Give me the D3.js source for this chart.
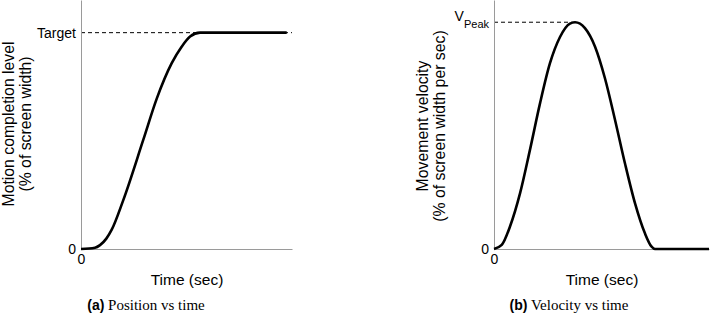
<!DOCTYPE html>
<html>
<head>
<meta charset="utf-8">
<script src="https://cdn.jsdelivr.net/npm/d3@7"></script>
<style>
  body { margin: 0; background: #fff; }
  svg { display: block; }
  .axis text { font-family: "Liberation Sans", Arial, sans-serif; font-size: 14px; fill: #000; }
  .axis path { stroke: #9a9a9a; stroke-width: 1; }
  .lbl { font-family: "Liberation Sans", Arial, sans-serif; fill: #000; }
  .cap { font-family: "Liberation Serif", "Times New Roman", serif; font-size: 15px; fill: #000; }
</style>
</head>
<body>
<div id="chart"></div>
<script>
// Panel (a): position vs time (time in % of plotted span, level in % of target)
const posTime  = [0, 6.6, 9.0, 12.0, 14.5, 20.0, 29.5, 35.9, 43.0, 47.7, 51.7, 56.4, 97.5];
const posLevel = [0, 0.6, 1.8, 4.8, 8.8, 22.5, 50.4, 69.5, 85.9, 93.5, 98.2, 100, 100];

// Panel (b): velocity vs time (velocity in % of peak)
const velTime  = [0, 3.6, 7.4, 12.1, 16.7, 21.4, 26.0, 30.7, 35.3, 37.7, 42.3, 47.0, 51.6, 56.3, 60.9, 65.6, 70.2, 73.3, 74.9, 100];
const velValue = [0, 1.8, 9.8, 24.5, 43.6, 64.2, 81.8, 93.5, 99.4, 100, 97.4, 89.2, 75.3, 56.9, 37.8, 20.1, 6.9, 1.0, 0, 0];

const xTickLabels = ["0"];
const yTickLabels = { a: ["0", "Target"], b: ["0", "V|Peak"] };

const width = 711, height = 316;

const svg = d3.select("#chart").append("svg")
  .attr("width", width)
  .attr("height", height);

function drawPanel(opts) {
  const x = d3.scaleLinear().domain([0, 100]).range([opts.left, opts.right]);
  const y = d3.scaleLinear().domain([0, opts.yTop]).range([249, 0]);

  const g = svg.append("g");

  // dashed reference line at 100%
  g.append("line")
    .attr("x1", x(0)).attr("x2", x(opts.refX))
    .attr("y1", y(100)).attr("y2", y(100))
    .attr("stroke", "#000")
    .attr("stroke-width", 1)
    .attr("stroke-dasharray", "4,3");

  // y axis
  const yAxis = g.append("g")
    .attr("class", "axis")
    .attr("transform", `translate(${x(0)},0)`)
    .call(d3.axisLeft(y).tickValues([0, 100]).tickSize(0).tickPadding(5)
      .tickFormat((d, i) => opts.yLabels[i]));
  // "V|Peak" -> V with subscript
  yAxis.selectAll(".tick text").each(function() {
    const t = d3.select(this);
    const parts = t.text().split("|");
    if (parts.length > 1) {
      t.text(null);
      t.append("tspan").text(parts[0]).attr("dy", "-0.15em");
      t.append("tspan").text(parts[1]).attr("font-size", "11px").attr("dy", "0.65em");
    }
  });

  // x axis
  g.append("g")
    .attr("class", "axis")
    .attr("transform", `translate(0,${y(0)})`)
    .call(d3.axisBottom(x).tickValues([0]).tickSize(0).tickPadding(5)
      .tickFormat((d, i) => xTickLabels[i]));

  // curve
  const line = d3.line()
    .x(d => x(d[0]))
    .y(d => y(d[1]))
    .curve(d3.curveMonotoneX);

  g.append("path")
    .datum(d3.zip(opts.xs, opts.ys))
    .attr("fill", "none")
    .attr("stroke", "#000")
    .attr("stroke-width", 2.6)
    .attr("stroke-linejoin", "round")
    .attr("d", line);

  // axis titles
  g.append("text")
    .attr("class", "lbl")
    .attr("x", opts.timeX)
    .attr("y", 285)
    .attr("text-anchor", "middle")
    .style("font-size", "15.5px")
    .text("Time (sec)");

  const yl = g.append("text")
    .attr("class", "lbl")
    .attr("transform", `translate(${opts.yLabelX},${opts.yLabelY}) rotate(-90)`)
    .attr("text-anchor", "middle")
    .style("font-size", "15.8px");
  opts.yTitle.forEach((s, i) => {
    yl.append("tspan").attr("x", 0).attr("dy", i === 0 ? 0 : 17).text(s);
  });

  // caption
  const cap = g.append("text")
    .attr("x", opts.capX)
    .attr("y", 310)
    .attr("text-anchor", "middle");
  cap.append("tspan")
    .attr("class", "lbl")
    .style("font-size", "14px")
    .style("font-weight", "bold")
    .text(opts.capTag);
  cap.append("tspan")
    .attr("class", "cap")
    .text(" " + opts.capText);
}

drawPanel({
  left: 81, right: 292, yTop: 115.1, refX: 100,
  xs: posTime, ys: posLevel,
  yLabels: yTickLabels.a,
  timeX: 187, yLabelX: 14, yLabelY: 124,
  yTitle: ["Motion completion level", "(% of screen width)"],
  capX: 146, capTag: "(a)", capText: "Position vs time"
});

drawPanel({
  left: 494, right: 709, yTop: 109.8, refX: 37.7,
  xs: velTime, ys: velValue,
  yLabels: yTickLabels.b,
  timeX: 602, yLabelX: 428, yLabelY: 126,
  yTitle: ["Movement velocity", "(% of screen width per sec)"],
  capX: 569, capTag: "(b)", capText: "Velocity vs time"
});
</script>
</body>
</html>
